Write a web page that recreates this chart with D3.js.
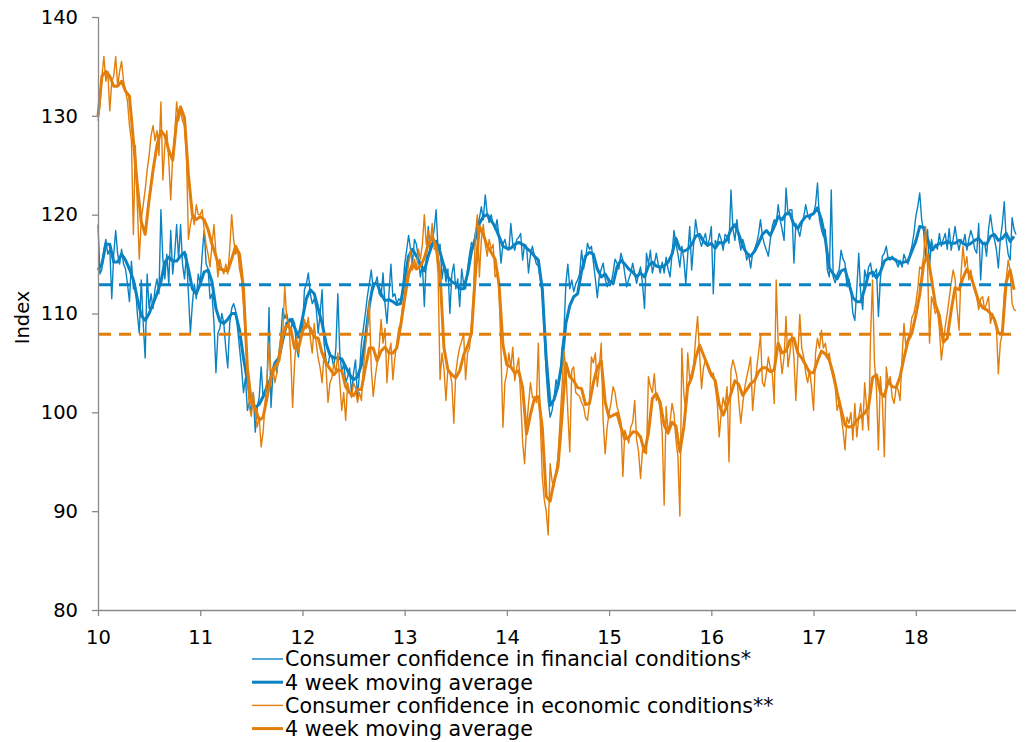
<!DOCTYPE html>
<html>
<head>
<meta charset="utf-8">
<script src="https://cdnjs.cloudflare.com/ajax/libs/d3/7.8.5/d3.min.js"></script>
<style>
    body { margin: 0; background: #fff; }
    svg text { font-family: "DejaVu Sans", Verdana, sans-serif; fill: #000; }
</style>
</head>
<body>
<svg id="chart" width="1030" height="742"></svg>
<script>
// Weekly index, first point = first week of 2010 (x axis shows year as 10..18)
const finRaw = [
    119, 114, 114.5, 116.5, 117.5, 116, 116.5, 111.5, 116, 118.4,
    116, 115, 116.5, 115, 114.5, 113, 111.2, 115.3, 112.5, 113,
    110, 108, 113.4, 109, 105.5, 114, 110.5, 112, 110.5, 112.5,
    113.5, 112, 120.5, 115.5, 113.5, 116, 113, 118.4, 114, 116,
    119, 115.5, 119, 115, 113.5, 116, 112, 108, 111, 113,
    111.5, 114,
    113, 116, 118.4, 115, 114.5, 111.5, 112, 109, 104, 108,
    108.5, 110, 109, 106.5, 104.5, 109, 110.5, 111, 110.3, 108.5,
    106.5, 104.5, 102, 103.5, 100.2, 101, 100, 102, 98, 100.5,
    101.5, 104.6, 101.5, 102.3, 103, 110.6, 100.5, 104, 105, 104,
    106, 107.6, 110.5, 109.5, 110, 109, 108, 109.5, 109, 106.5,
    105.6, 108.5,
    108, 112.4, 113, 114.1, 112, 111, 111.5, 110.5, 108, 110,
    112.4, 107, 105.3, 104.6, 106, 105.5, 104.6, 106.5, 112, 106,
    104, 105, 103, 103.6, 104.5, 101.8, 104, 105.3, 101.5, 104,
    107, 108.5, 110, 111.7, 113, 114.4, 112.4, 113, 113.7, 112,
    111.7, 114.1, 111, 109, 112, 115, 111.7, 112, 111, 111.5,
    111.3, 112.4,
    115, 116.4, 117.9, 116.5, 115.2, 117.5, 117, 115.5, 113.7, 115,
    110.7, 115.5, 118.8, 116.5, 117.1, 118.5, 120.5, 116.4, 117, 113.5,
    115, 113.2, 114.5, 110, 114, 115, 112.5, 113.5, 110.7, 114.5,
    113, 112.5, 114.5, 116, 117.2, 116.8, 118.2, 119, 119.6, 120.8,
    119.5, 122, 120, 119.2, 120, 119, 118.5, 119.5, 117.7, 115.1,
    117, 117.5,
    116.5, 116.4, 119.1, 117, 116.4, 117.5, 117.7, 118.1, 115.4, 117,
    116.8, 114.1, 116, 116.8, 115.8, 115, 114.8, 113.5, 112, 108,
    104, 101.2, 99.5, 100.2, 101.5, 103.3, 102.5, 103.6, 106.5, 108,
    113, 115, 112.5, 113.4, 112.2, 113, 113.4, 114, 116.4, 114.5,
    115.5, 117.1, 116.5, 116.8, 115.2, 113.5, 111.6, 113.7, 114.5, 115.1,
    113.5, 112.7,
    113.5, 113.05, 114.1, 115.5, 115.1, 114.5, 116.1, 115.4, 114, 112.7,
    113.5, 114.1, 115.1, 114, 113.05, 114, 114.7, 113, 110.5, 116.1,
    115, 116.4, 114.1, 115, 116.1, 115, 114.1, 115.2, 114.1, 115.7,
    114.5, 113.7, 116, 118.4, 117.1, 116, 114.7, 116.8, 115.5, 113,
    116, 118.8, 114.4, 117, 119.5, 118.1, 117.5, 116.8, 117.5, 118.1,
    116.8, 117.5,
    118.8, 112, 117.4, 117, 118.1, 117.5, 116.4, 118, 117.8, 117.1,
    122.5, 118.5, 117.4, 119.5, 117.5, 116.4, 117.5, 116.8, 115.4, 116,
    114.6, 116.1, 116.5, 117.1, 118, 119.5, 117.8, 117, 116.4, 115.8,
    117.5, 118.8, 119.5, 119, 121, 119.5, 118.5, 117.4, 122.7, 120,
    120.5, 120.5, 115.1, 119.1, 118.5, 117.8, 119, 119.8, 121, 120,
    119.5, 120.1,
    120.1, 121, 123.2, 119.5, 118.5, 117.8, 118.5, 114.4, 113.7, 122.5,
    113.7, 113.1, 114, 114.4, 116.4, 115.5, 115.1, 112.7, 113.5, 112.4,
    110, 109.3, 112.5, 116.1, 112, 110.4, 114.4, 113.5, 114.7, 115.1,
    113.7, 114.1, 114.5, 109.7, 113.5, 115.8, 116.1, 116.8, 115.5, 115.4,
    115.8, 115.5, 115.2, 114.7, 115.4, 114.7, 116, 115.4, 115, 116,
    116.8, 118,
    119.8, 120.8, 122.2, 119.5, 118.3, 115.4, 118.5, 114.7, 117.5, 116.4,
    117, 116.5, 118.1, 116.8, 117.5, 118.1, 116.5, 118.6, 116.4, 117.5,
    118.8, 117.4, 116.4, 117.5, 117, 118, 116.4, 117.5, 118.4, 117.7,
    116.5, 116.1, 119.1, 113.4, 117, 117.2, 115.8, 118.5, 120, 118.5,
    117.5, 116.5, 114.6, 117.5, 119, 121.3, 117.5, 116, 115.4, 119.7,
    118.5, 118
];

// 4 week moving average, read every second week
const finAvg = [
    114.4, 115, 117, 117, 115.2, 115.2, 116, 115.4, 114.5, 113.4, 111.5, 109.8, 109.3,
    110, 111, 112, 113.2, 115.2, 115.7, 115.3, 115.3, 115.8, 116.2, 114.5, 112.5, 112,
    113, 114.2, 114.4, 113.2, 110.5, 109.2, 109, 109.4, 110, 110, 108.3, 105.5, 103.2,
    101.2, 100.5, 100.8, 101.6, 102.5, 103.5, 105, 105.5, 107.3, 109, 109.4, 108.6, 107.6,
    109.5, 111.5, 112.4, 112, 110.5, 109, 107, 105.8, 105.5, 105.5, 105.4, 104.6, 103.8,
    103.3, 103.6, 104.8, 107.5, 110.8, 113, 113, 112, 111.3, 111.4, 111.2, 110.9, 111,
    113.5, 115.8, 116.5, 115.8, 115, 114.3, 115.8, 117, 117.3, 116.2, 114.8, 113.7, 113.2,
    113, 112.5, 112.5, 114, 116.3, 117.6, 119.1, 119.8, 120, 119.4, 118.8, 117.8, 116.8,
    116.6, 116.6, 117, 117.2, 117, 116.6, 116.3, 115.8, 115.4, 112.5, 105.5, 100.7, 101.3,
    102.7, 105, 109, 110.8, 111.7, 112, 114.3, 115.8, 116.2, 116, 114.5, 113.7, 114,
    113.3, 113, 114.7, 115.4, 115, 114.5, 114.2, 113.7, 114.1, 113.7, 114.8, 115.2, 114.8,
    114.7, 114.8, 115.2, 116, 117.6, 116.5, 116.3, 116.5, 117, 117.8, 118, 117.3, 116.9,
    117.1, 116.6, 117.2, 117.1, 117.5, 118.5, 119, 118, 116.8, 116.1, 115.8, 116.3, 117.1,
    118, 118.4, 117.9, 118.8, 119.8, 119.5, 120.1, 120.1, 119, 118.6, 119.3, 119.8, 119.9,
    120.1, 120.7, 119.5, 117.5, 114.6, 114, 113.5, 114.3, 114.5, 113, 111.6, 111.2, 111.2,
    112.5, 114, 114.2, 113.6, 114.2, 115.3, 115.6, 115.6, 115.4, 115.1, 115.2, 115.3, 116.3,
    117.3, 118.8, 118.7, 117.5, 116.4, 116.8, 117.1, 117.1, 117.3, 117.1, 117.1, 117.4, 117.1,
    116.9, 117.1, 117.4, 117.6, 117.1, 117, 117.8, 118, 117.4, 117.6, 118.1, 117.3, 117.8
];

const ecoRaw = [
    129.5, 131, 134, 136, 133.5, 134.5, 130.5, 133.5, 134, 136,
    133, 134.5, 135.5, 133.5, 132.5, 131.5, 129, 127.5, 118, 127,
    121, 115.5, 119.5, 121, 122.5, 124.5, 126, 128, 129, 127.5,
    128.5, 126, 131.4, 123.5, 127, 128.5, 125.5, 121.5, 126, 128,
    131.4, 129.5, 130.5, 129.5, 129, 126, 117.5, 119, 120, 119,
    121, 120,
    120, 120.5, 118.5, 117, 116, 114.7, 117, 119, 116, 113.7,
    115.5, 114.5, 114, 115, 114, 116.5, 120, 117.5, 116, 116.5,
    114.5, 113.5, 111, 108, 103.5, 100.5, 99.6, 102, 100, 98.5,
    99.5, 96.5, 98, 101, 103.5, 107, 104, 104.5, 103, 104,
    106, 107.6, 108, 112.8, 109.5, 109, 106, 100.5, 105, 107.6,
    106, 107.5,
    108, 109.4, 108.5, 109.6, 107.5, 106, 109, 107, 105.5, 104.5,
    103, 106, 104.5, 101, 103, 103.5, 105, 104, 106, 103,
    100.2, 102, 99.2, 103, 102, 101.5, 103, 102.5, 101, 102,
    101.2, 104.5, 106.5, 108.5, 111.3, 104.5, 101.6, 103.5, 105, 106.5,
    109.4, 107, 108.5, 103, 106, 107, 103.3, 105.5, 107, 108.5,
    109, 110.8,
    112, 113.4, 115, 116.4, 114.4, 115.5, 114.5, 116.5, 115.5, 117,
    120, 117, 118.4, 117, 119.1, 116.5, 116.5, 114, 103.3, 106,
    104.4, 101.2, 104.5, 104, 103, 98.9, 104, 105.5, 106.6, 107.2,
    108, 103.3, 106, 106.5, 109, 112, 118, 120, 113.7, 117.5,
    119, 117, 115.8, 117.5, 116.5, 117, 113.7, 114, 112.5, 106.2,
    98.5, 103,
    104, 106, 104.5, 106.6, 103.2, 104.5, 105.5, 101.5, 97, 94.8,
    98.5, 100.8, 103, 101.5, 101.6, 101, 107, 99, 93.5, 91.2,
    90, 87.6, 94.8, 93, 92.5, 94, 95.5, 99, 102.5, 106.2,
    104.5, 100, 96, 104.3, 104.6, 102, 101.8, 101.6, 101, 100.6,
    99.5, 99.2, 101, 105.6, 105, 106, 102.6, 104.5, 107, 99,
    95.8, 98.5,
    99.9, 101, 102.6, 102, 100.6, 99.9, 99, 93.5, 98.2, 97.5,
    96.9, 98.5, 99, 101.2, 97.2, 96, 93.3, 96.2, 96, 95.8,
    103.6, 102.6, 102, 103.9, 101.2, 101.5, 100.2, 97.9, 90.6, 100.6,
    97.9, 99, 100.9, 99.9, 97.2, 95.5, 89.5, 106.5, 101.9, 100,
    106, 103.3, 104, 104.6, 107.5, 109.7, 106, 102.4, 104.5, 105.3,
    104.6, 104,
    103.6, 104, 102.6, 101, 97.5, 99.9, 101.5, 100.6, 102.6, 95,
    104.3, 105.3, 104.5, 103.6, 101, 98.9, 100.9, 102.5, 103.6, 104.5,
    105.6, 100.2, 102.5, 104.3, 106, 107.8, 103, 102.6, 104, 105.6,
    104.5, 103.9, 100.9, 113.4, 107, 106, 103.9, 105.6, 109.7, 104.6,
    106, 108, 105.6, 101.2, 105.6, 109.9, 106.5, 105.6, 104, 103,
    104.3, 102.5,
    100.2, 106, 107.5, 106.5, 108.3, 106.5, 107, 105.6, 106, 104.3,
    103.5, 102.6, 100.2, 101, 99.6, 98.2, 96.2, 99.5, 98.9, 100,
    97.2, 100.9, 97.5, 99.5, 100.9, 98.2, 103, 100.5, 98.2, 107.7,
    113.4, 105, 102.3, 96.2, 103.6, 101.2, 95.5, 104.6, 103, 103.6,
    101.5, 100.9, 102.5, 102.3, 101.2, 105.5, 109, 106.5, 107.5, 108,
    109.6, 110,
    111, 112.5, 114.7, 114.5, 115.75, 118.8, 114.7, 107, 111.7, 111,
    110, 110.4, 108.5, 105.3, 107, 108.7, 110, 111.5, 113.05, 114.4,
    113.5, 110.5, 108.3, 114, 116.8, 114.7, 115.75, 113.4, 114.4, 113.05,
    112.5, 111.7, 110.4, 111.5, 111.7, 110.4, 111, 111.7, 109, 110,
    109.5, 108.7, 103.9, 107, 108, 112, 113.4, 115.4, 114.4, 111,
    110.4, 110.3
];

const ecoAvg = [
    130, 134, 134.5, 134, 133, 133, 133.5, 132.5, 132, 127.5, 123, 119.3, 118,
    121.5, 124.5, 127, 128.5, 128, 126.5, 125.5, 129.5, 130.9, 129.8, 124, 120, 119.5,
    119.8, 119.5, 118.5, 117, 115.8, 114.5, 114.4, 114.3, 115.5, 116.8, 116, 112.5, 104.5,
    101, 100.4, 99.2, 99.5, 101.5, 103.5, 104.6, 105.2, 107.8, 108.8, 108.5, 106.5, 106.5,
    108.2, 108.9, 108.5, 107.6, 107.5, 106, 105, 104.4, 103.8, 104.3, 104.2, 102.6, 102,
    101.7, 102.3, 102.3, 104.5, 106.5, 106.5, 105.2, 106.2, 106.6, 106, 106, 106.5, 108.8,
    111.5, 114, 115, 114.5, 114.8, 115.6, 117, 117.8, 116.8, 114, 106.5, 104.3, 103.8,
    103.5, 104.2, 105.8, 106.7, 108, 114, 118.8, 118, 116.8, 116.2, 115.5, 113, 106.8,
    104.8, 104.6, 104, 104.2, 102.5, 97.8, 99.8, 101.4, 101.6, 98.5, 91.5, 91, 93,
    94.5, 99.5, 105, 103.6, 103.2, 102.5, 102.4, 100.8, 100.9, 103, 104.5, 105.2, 101,
    99.5, 99.7, 99.9, 98.5, 97.3, 97.5, 98, 98, 97.5, 96, 97.9, 101.4, 101.9,
    101, 98.7, 97.9, 99, 98.6, 96, 98.5, 102.6, 103.5, 105.5, 106.8, 105.8, 104.8,
    103.8, 103.2, 100.8, 99.7, 100.7, 101.9, 103.2, 102.8, 101.7, 102.3, 102.9, 103.2, 104.1,
    104.5, 104.5, 104.1, 104.3, 107, 106, 106.2, 107.3, 107.5, 106, 105.5, 104.8, 104,
    104, 105.2, 106.2, 105.9, 105.3, 103.9, 102, 100.3, 98.7, 98.5, 98.6, 99.2, 99.6,
    99.9, 100.6, 103.5, 103.8, 102, 101.6, 103.2, 102.6, 102.5, 103.6, 105.5, 107.2, 108,
    109.8, 111.9, 115, 115.9, 113.5, 110.9, 109.8, 107.1, 107.5, 110.3, 112.6, 112.4, 113.6,
    114.5, 113.8, 112.5, 111.2, 110.6, 110.4, 110, 109.4, 108, 108, 113.2, 114.4, 112.4
];

// long-run averages (dashed)
const finMean = 112.9;
const ecoMean = 107.9;

const yTicks = [80, 90, 100, 110, 120, 130, 140];
const xTicks = [10, 11, 12, 13, 14, 15, 16, 17, 18];
const legendLabels = [
    'Consumer confidence in financial conditions*',
    '4 week moving average',
    'Consumer confidence in economic conditions**',
    '4 week moving average'
];

const BLUE = '#0b82c2';
const ORANGE = '#e27e0b';
const AXIS_GREY = '#8a8a8a';

const margin = { left: 98, right: 1018, top: 17, bottom: 610 };

const svg = d3.select('#chart');

const x = d3.scaleLinear().domain([10, 19]).range([margin.left, margin.right]);
const y = d3.scaleLinear().domain([80, 140]).range([margin.bottom, margin.top]);

// weekly series -> year position
function seriesLine(values, weeksPerStep) {
    return d3.line()
        .x((d, i) => x(10 + i * weeksPerStep / 52))
        .y(d => y(d))(values);
}

function drawAxes() {
    const yAxis = svg.append('g')
        .attr('transform', `translate(${margin.left},0)`)
        .call(d3.axisLeft(y).tickValues(yTicks).tickSize(6).tickPadding(14));

    const xAxis = svg.append('g')
        .attr('transform', `translate(0,${margin.bottom})`)
        .call(d3.axisBottom(x).tickValues(xTicks).tickSize(6).tickPadding(14).tickFormat(d3.format('d')));

    // no axis line past the last week
    xAxis.select('.domain').attr('d', `M${margin.left},0.5H${x(18.98)}`);

    [yAxis, xAxis].forEach(a => {
        a.selectAll('path, line').attr('stroke', AXIS_GREY).attr('stroke-width', 1.3);
        a.selectAll('text').style('font-size', '19.5px').attr('fill', '#000');
    });
    yAxis.select('.domain').attr('d', `M0.5,${margin.top}V${margin.bottom}`);

    svg.append('text')
        .attr('transform', `translate(22,${(margin.top + margin.bottom) / 2 + 4}) rotate(-90)`)
        .attr('text-anchor', 'middle')
        .attr('dy', '0.35em')
        .style('font-size', '19.5px')
        .text('Index');
}

function drawSeries() {
    const layers = [
        { values: finRaw, step: 1, color: BLUE, width: 1.4 },
        { values: finAvg, step: 2, color: BLUE, width: 3 },
        { values: ecoRaw, step: 1, color: ORANGE, width: 1.4 },
        { values: ecoAvg, step: 2, color: ORANGE, width: 3 }
    ];

    layers.forEach(l => {
        svg.append('path')
            .attr('d', seriesLine(l.values, l.step))
            .attr('fill', 'none')
            .attr('stroke', l.color)
            .attr('stroke-width', l.width)
            .attr('stroke-linejoin', 'round');
    });

    [{ v: finMean, color: BLUE }, { v: ecoMean, color: ORANGE }].forEach(m => {
        svg.append('line')
            .attr('x1', margin.left + 1)
            .attr('x2', x(18.98))
            .attr('y1', y(m.v))
            .attr('y2', y(m.v))
            .attr('stroke', m.color)
            .attr('stroke-width', 3)
            .attr('stroke-dasharray', '12,8');
    });
}

function drawLegend() {
    const colors = [BLUE, BLUE, ORANGE, ORANGE];
    const widths = [1.4, 3, 1.4, 3];
    const legend = svg.append('g').attr('transform', 'translate(252,659)');

    legendLabels.forEach((label, i) => {
        const row = legend.append('g').attr('transform', `translate(0,${i * 23.2})`);
        row.append('line')
            .attr('x1', 0).attr('x2', 31)
            .attr('stroke', colors[i])
            .attr('stroke-width', widths[i]);
        row.append('text')
            .attr('x', 33)
            .attr('dy', '0.36em')
            .style('font-size', '20.6px')
            .text(label);
    });
}

drawSeries();
drawAxes();
drawLegend();
</script>
</body>
</html>
